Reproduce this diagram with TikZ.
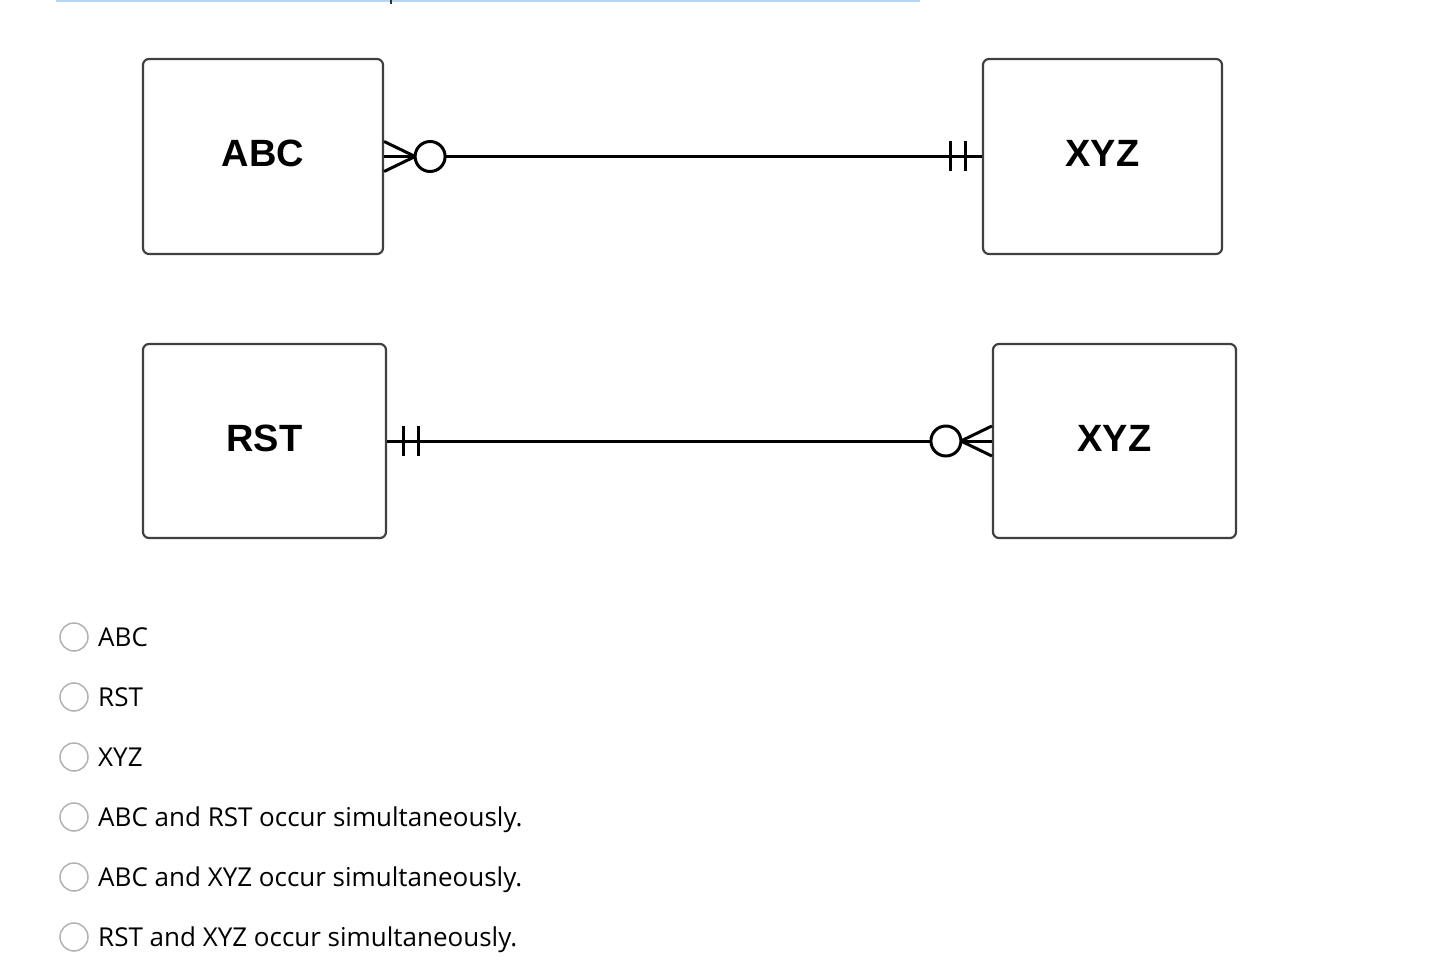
\documentclass[tikz,border=0pt]{standalone}
\usepackage{fontspec}
\setmainfont{Open Sans}
\newfontfamily\entfont{Liberation Sans}
\usetikzlibrary{calc}
\definecolor{tabblue}{HTML}{B3D7F7}

\begin{document}
\begin{tikzpicture}[x=1pt,y=-1pt,
    entity/.style={draw=black!75,line width=2.2pt,rounded corners=6pt,
      minimum width=240pt,minimum height=195pt,text depth=6pt,
      font=\entfont\bfseries\fontsize{38}{46}\selectfont},
    rel/.style={line width=3pt},
    opt/.style={circle,draw=black!30,line width=1.5pt,fill=white,
      minimum size=28pt,inner sep=0pt},
    answer/.style={anchor=base west,inner sep=0pt,
      font=\fontsize{26}{32}\selectfont}]
  \useasboundingbox (0,0) rectangle (1446,968);
  \fill[tabblue] (56,0) rectangle (920,2.5);
  \draw[black!80,line width=1.5pt] (391,0) -- (391,4);

  % entities
  \node[entity] (abc) at (263,156.5) {ABC};
  \node[entity,minimum width=239pt] (xyzA) at (1102.5,156.5) {XYZ};
  \node[entity,minimum width=243pt,minimum height=194pt] (rst) at (264.5,441) {RST};
  \node[entity,minimum width=243pt,minimum height=194pt] (xyzB) at (1114.5,441) {XYZ};

  % relationships
  \draw[rel] (abc) -- (xyzA);
  \draw[rel] (rst) -- (xyzB);

  % zero or many at ABC, one and only one at XYZ
  \draw[rel] ($(abc.east)+(0,-15)$) -- ($(abc.east)+(31,0)$) -- ($(abc.east)+(0,15)$);
  \draw[rel,fill=white] ($(abc.east)+(46,0)$) circle[radius=15pt];
  \foreach \dx in {-16,-31}
    \draw[rel] ($(xyzA.west)+(\dx,-15)$) -- ++(0,30);

  % one and only one at RST, zero or many at XYZ
  \foreach \dx in {16,31}
    \draw[rel] ($(rst.east)+(\dx,-15)$) -- ++(0,30);
  \draw[rel] ($(xyzB.west)+(0,-15)$) -- ($(xyzB.west)+(-31,0)$) -- ($(xyzB.west)+(0,15)$);
  \draw[rel,fill=white] ($(xyzB.west)+(-46,0)$) circle[radius=15pt];

  % answer choices
  \foreach \txt [count=\i] in {ABC,RST,XYZ,ABC and RST occur simultaneously.,
      ABC and XYZ occur simultaneously.,RST and XYZ occur simultaneously.} {
    \node[opt] (opt\i) at (74,577+60*\i) {};
    \node[answer] (ans\i) at (98,586+60*\i) {\txt};
  }
\end{tikzpicture}
\end{document}
